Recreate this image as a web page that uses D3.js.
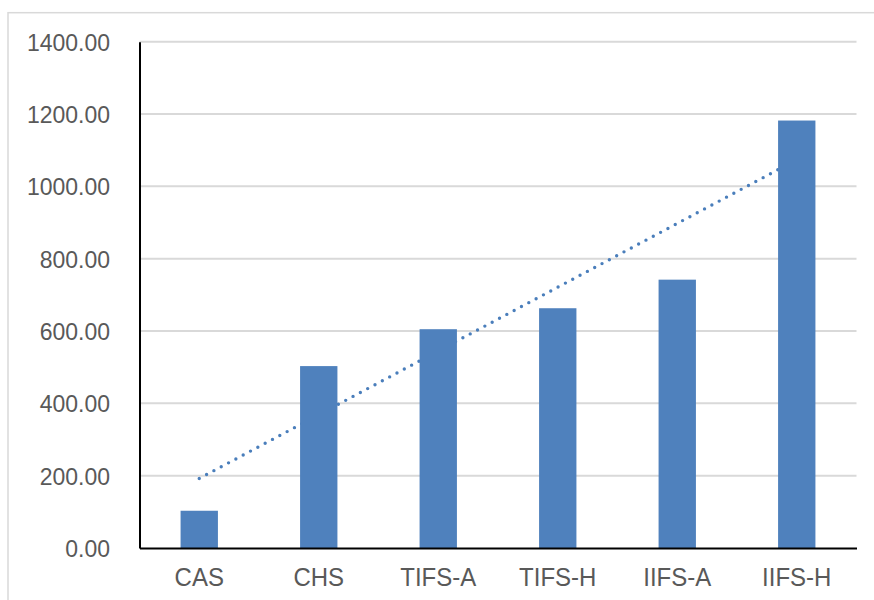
<!DOCTYPE html>
<html>
<head>
<meta charset="utf-8">
<script src="https://cdn.jsdelivr.net/npm/d3@7"></script>
<style>
  html, body { margin: 0; padding: 0; background: #fff; }
  svg { display: block; }
  text { font-family: "Liberation Sans", Arial, sans-serif; fill: #595959; }
</style>
</head>
<body>
<svg id="chart" width="874" height="600"></svg>
<script>
// Categories and values
const categories = ["CAS", "CHS", "TIFS-A", "TIFS-H", "IIFS-A", "IIFS-H"];
const values = [103, 503, 605, 663, 742, 1182];
const yTicks = [0, 200, 400, 600, 800, 1000, 1200, 1400];

const svg = d3.select("#chart");

// Plot area
const plotLeft = 139.5, plotRight = 856.5, plotTop = 41.7, plotBottom = 548;
const textStretch = 1.08;

// Chart frame
svg.append("rect")
  .attr("x", 8).attr("y", 12.7)
  .attr("width", 1000).attr("height", 1000)
  .attr("fill", "none")
  .attr("stroke", "#d9d9d9")
  .attr("stroke-width", 1.5);

const x = d3.scaleBand().domain(categories).range([plotLeft, plotRight]).padding(0);
const y = d3.scaleLinear().domain([0, 1400]).range([plotBottom, plotTop]);

// Horizontal gridlines
svg.append("g")
  .selectAll("line")
  .data(yTicks.filter(t => t > 0))
  .join("line")
  .attr("x1", plotLeft).attr("x2", plotRight)
  .attr("y1", d => y(d)).attr("y2", d => y(d))
  .attr("stroke", "#d9d9d9")
  .attr("stroke-width", 2);

// Linear trendline (least squares over category index)
const n = values.length;
const xs = values.map((_, i) => i + 1);
const mx = d3.mean(xs), my = d3.mean(values);
const slope = d3.sum(xs.map((xi, i) => (xi - mx) * (values[i] - my))) /
              d3.sum(xs.map(xi => (xi - mx) ** 2));
const intercept = my - slope * mx;
const trend = [1, n].map(i => ({ cat: categories[i - 1], v: intercept + slope * i }));

svg.append("path")
  .datum(trend)
  .attr("d", d3.line()
    .x(d => x(d.cat) + x.bandwidth() / 2)
    .y(d => y(d.v)))
  .attr("fill", "none")
  .attr("stroke", "#4a7ebb")
  .attr("stroke-width", 3.4)
  .attr("stroke-linecap", "round")
  .attr("stroke-dasharray", "0 8.3");

// Bars
const barW = x.bandwidth() / 3.2;
svg.append("g")
  .selectAll("rect")
  .data(categories)
  .join("rect")
  .attr("x", d => x(d) + (x.bandwidth() - barW) / 2)
  .attr("width", barW)
  .attr("y", (d, i) => y(values[i]))
  .attr("height", (d, i) => y(0) - y(values[i]))
  .attr("fill", "#4f81bd");

// Axes
const yAxis = svg.append("g")
  .attr("transform", `translate(${plotLeft},0)`)
  .call(d3.axisLeft(y).tickValues(yTicks).tickSize(0).tickPadding(29.5)
    .tickFormat(d3.format(".2f")));
yAxis.select(".domain").attr("stroke", "#000").attr("stroke-width", 2);
yAxis.selectAll("text")
  .style("font-size", "23px")
  .attr("fill", "#595959")
  .attr("dy", "0.34em")
  .attr("transform", `scale(1,${textStretch})`);

const xAxis = svg.append("g")
  .attr("transform", `translate(0,${plotBottom})`)
  .call(d3.axisBottom(x).tickSize(0).tickPadding(0));
xAxis.select(".domain").attr("stroke", "#000").attr("stroke-width", 2);
xAxis.selectAll("text")
  .style("font-size", "24px")
  .attr("fill", "#595959")
  .attr("dy", null)
  .attr("y", 38 / textStretch)
  .attr("transform", `scale(1,${textStretch})`);
</script>
</body>
</html>
